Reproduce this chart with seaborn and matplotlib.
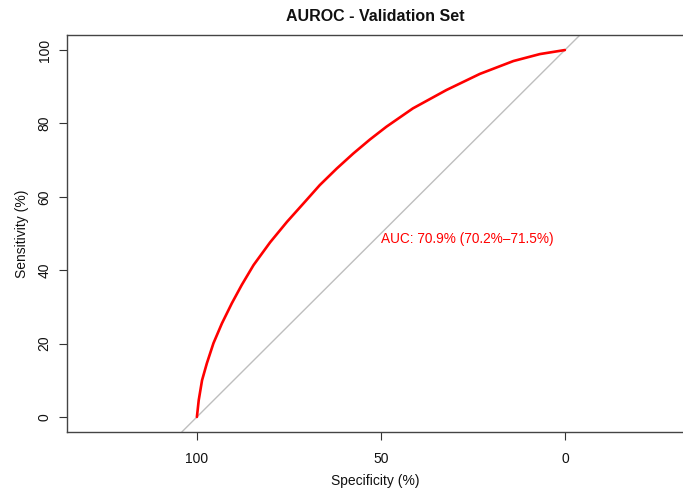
import matplotlib
matplotlib.use("Agg")
import matplotlib.pyplot as plt
import seaborn as sns
import pandas as pd

# ROC curve points (percent)
specificity = [100, 99.5, 98.6, 97.3, 95.5, 93.2, 90.5, 87.8, 84.6, 80.1, 75.5,
               70.5, 66.6, 62.0, 57.5, 53.0, 48.5, 41.3, 32.2, 23.1, 14.0, 6.8, 0]
sensitivity = [0, 4.6, 10.0, 14.6, 20.1, 25.5, 31.0, 36.0, 41.4, 47.6, 53.2,
               58.8, 63.2, 67.7, 71.8, 75.6, 79.1, 84.1, 89.1, 93.5, 97.0, 98.9, 100]
x_ticks = [100, 50, 0]
y_ticks = [0, 20, 40, 60, 80, 100]
title = "AUROC - Validation Set"
auc_label = "AUC: 70.9% (70.2%\u201371.5%)"

sns.set_theme(style="white")
plt.rcParams['font.family'] = ['Liberation Sans', 'DejaVu Sans']

df = pd.DataFrame({"Specificity": specificity, "Sensitivity": sensitivity})

fig = plt.figure(figsize=(6.83, 4.93), dpi=100)
ax = fig.add_axes([67 / 683, 61 / 493, 1 - 67 / 683, (432 - 35) / 493])

ax.axline((100, 0), (0, 100), color="#BEBEBE", lw=1.0, zorder=1)
sns.lineplot(data=df, x="Specificity", y="Sensitivity", sort=False,
             color="#FF0000", lw=1.9, ax=ax, zorder=2)

ax.set_xlim(135.3, -32.1)
ax.set_ylim(-4.1, 104.1)
ax.set_xticks(x_ticks)
ax.set_yticks(y_ticks)
ax.set_xticklabels([str(v) for v in x_ticks], fontsize=10, color="#111111")
ax.set_yticklabels([str(v) for v in y_ticks], fontsize=10, color="#111111",
                   rotation=90, va="center")
ax.tick_params(axis="both", direction="out", length=6, width=0.8,
               color="#333333", bottom=True, left=True)
ax.tick_params(axis="x", pad=8.5)
ax.tick_params(axis="y", pad=5)

for side in ["left", "top", "bottom"]:
    ax.spines[side].set_color("#444444")
    ax.spines[side].set_linewidth(1.0)
ax.spines["right"].set_visible(False)

ax.set_xlabel("Specificity (%)", fontsize=10, color="#111111", labelpad=6)
ax.set_ylabel("Sensitivity (%)", fontsize=10, color="#111111", labelpad=6)
ax.set_title(title, fontsize=11.5, fontweight="bold", color="#111111", pad=10)

ax.text(50, 50.3, auc_label, color="#FF0000", fontsize=9.8, ha="left", va="top")

fig.savefig("out.png", dpi=100)
